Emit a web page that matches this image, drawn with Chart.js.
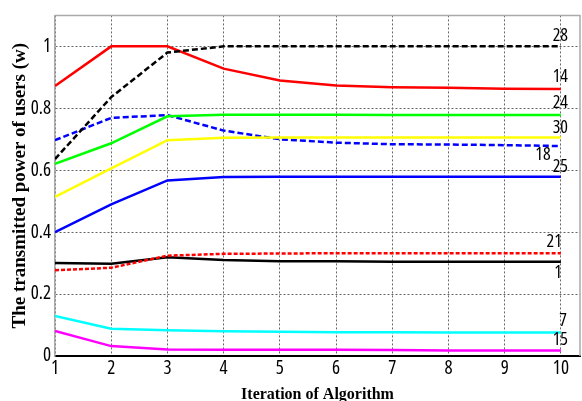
<!doctype html>
<html>
<head>
<meta charset="utf-8" />
<script src="https://cdn.jsdelivr.net/npm/chart.js@4/dist/chart.umd.min.js"></script>
<style>
  html, body { margin: 0; padding: 0; background: #fff; }
  #c { display: block; }
</style>
</head>
<body>
<canvas id="c" width="582" height="401"></canvas>
<script>
  // iterations on the x axis
  const iterations = [1, 2, 3, 4, 5, 6, 7, 8, 9, 10];
  const powerTicks = [0, 0.2, 0.4, 0.6, 0.8, 1];

  // transmitted power per user (w)
  const user1  = [0.300, 0.298, 0.319, 0.310, 0.306, 0.306, 0.304, 0.304, 0.304, 0.304];
  const user7  = [0.129, 0.088, 0.083, 0.080, 0.078, 0.077, 0.077, 0.076, 0.076, 0.076];
  const user14 = [0.872, 1.000, 1.000, 0.928, 0.890, 0.874, 0.868, 0.866, 0.863, 0.862];
  const user15 = [0.081, 0.032, 0.021, 0.020, 0.020, 0.020, 0.019, 0.018, 0.018, 0.018];
  const user18 = [0.697, 0.769, 0.778, 0.728, 0.700, 0.689, 0.684, 0.683, 0.681, 0.678];
  const user21 = [0.277, 0.285, 0.324, 0.330, 0.331, 0.332, 0.332, 0.332, 0.332, 0.332];
  const user24 = [0.621, 0.687, 0.774, 0.779, 0.779, 0.779, 0.778, 0.778, 0.778, 0.778];
  const user25 = [0.400, 0.490, 0.567, 0.578, 0.579, 0.579, 0.579, 0.579, 0.579, 0.579];
  const user28 = [0.636, 0.836, 0.980, 1.000, 1.000, 1.000, 1.000, 1.000, 1.000, 1.000];
  const user30 = [0.514, 0.606, 0.697, 0.705, 0.706, 0.706, 0.706, 0.706, 0.706, 0.706];

  // user number labels written next to the curves (data coordinates)
  const labelTexts = ["28", "14", "24", "30", "18", "25", "21", "1", "7", "15"];
  const labelIters = [9.99, 9.99, 9.99, 9.99, 9.68, 9.99, 9.88, 9.95, 10.04, 9.99];
  const labelPowers = [1.034, 0.901, 0.817, 0.738, 0.649, 0.612, 0.370, 0.270, 0.115, 0.051];

  const SERIF = "'Liberation Serif', 'Times New Roman', serif";

  // the original uses a narrow sans for numbers: take the narrowest one installed
  const narrow = (() => {
    const candidates = [
      { family: "'Liberation Sans Narrow'", weight: "normal" },
      { family: "'DejaVu Sans Condensed'", weight: "normal" },
      { family: "'Noto Sans'", weight: "condensed 400" },
      { family: "Roboto", weight: "condensed 400" },
      { family: "'Open Sans'", weight: "condensed 400" },
      { family: "'Liberation Sans'", weight: "normal" }
    ];
    const ctx = document.createElement("canvas").getContext("2d");
    let best = null, bestW = Infinity;
    candidates.forEach(c => {
      ctx.font = c.weight + " 40px " + c.family + ", monospace";
      const w = ctx.measureText("0.8 1234567890").width;
      if (w < bestW - 0.5) { bestW = w; best = c; }
    });
    const isNarrow = best.family !== "'Liberation Sans'";
    return { family: best.family + ", 'Liberation Sans', Arial, sans-serif", weight: best.weight, narrow: isNarrow };
  })();
  const tickSize = narrow.narrow ? 19 : 15;
  const labelSize = narrow.narrow ? 18 : 15;

  function series(values, color, dash) {
    return {
      data: iterations.map((x, i) => ({ x, y: values[i] })),
      borderColor: color,
      borderWidth: 2.5,
      borderDash: dash || [],
      pointRadius: 0,
      tension: 0,
      fill: false
    };
  }

  const frame = {
    id: "frame",
    afterDraw(chart) {
      const { ctx, chartArea: a } = chart;
      ctx.save();
      ctx.strokeStyle = "#aaa";
      ctx.lineWidth = 1.5;
      ctx.beginPath();
      ctx.moveTo(a.left, a.top);
      ctx.lineTo(a.right, a.top);
      ctx.lineTo(a.right, a.bottom);
      ctx.stroke();
      ctx.restore();
    }
  };

  const curveLabels = {
    id: "curveLabels",
    afterDatasetsDraw(chart) {
      const { ctx, scales } = chart;
      ctx.save();
      ctx.font = narrow.weight + " " + labelSize + "px " + narrow.family;
      ctx.fillStyle = "#000";
      ctx.textAlign = "center";
      ctx.textBaseline = "middle";
      labelTexts.forEach((t, i) => {
        ctx.fillText(t, scales.x.getPixelForValue(labelIters[i]), scales.y.getPixelForValue(labelPowers[i]));
      });
      ctx.restore();
    }
  };

  const tickFont = { family: narrow.family, weight: narrow.weight, size: tickSize };

  new Chart(document.getElementById("c"), {
    type: "line",
    data: {
      datasets: [
        series(user28, "#000000", [6, 3]),
        series(user30, "#ffff00"),
        series(user25, "#0000ff"),
        series(user24, "#00ff00"),
        series(user21, "#ff0000", [4, 2]),
        series(user18, "#0000ff", [6, 3]),
        series(user15, "#ff00ff"),
        series(user14, "#ff0000"),
        series(user7, "#00ffff"),
        series(user1, "#000000")
      ]
    },
    options: {
      responsive: false,
      animation: false,
      devicePixelRatio: 1,
      layout: { padding: { top: 12, right: 2, left: 0, bottom: 0 } },
      plugins: { legend: { display: false }, tooltip: { enabled: false } },
      scales: {
        x: {
          type: "linear",
          min: 1,
          max: 10.34,
          afterBuildTicks: s => { s.ticks = iterations.map(v => ({ value: v })); },
          afterFit: s => { s.height = 45; },
          ticks: { padding: 1, color: "#000", font: tickFont },
          grid: { color: "#666", lineWidth: 1, drawTicks: false },
          border: { color: "#000", width: 2, dash: [2, 2] },
          title: {
            display: true,
            text: "Iteration of Algorithm",
            color: "#000",
            font: { family: SERIF, size: 16, weight: "bold" },
            padding: { top: 0, bottom: -3 }
          }
        },
        y: {
          min: 0,
          max: 1.1,
          afterBuildTicks: s => { s.ticks = powerTicks.map(v => ({ value: v })); },
          afterFit: s => { s.width = 55; },
          ticks: {
            padding: 4,
            color: "#000",
            font: tickFont,
            callback: v => String(Math.round(v * 10) / 10)
          },
          grid: { color: "#666", lineWidth: 1, drawTicks: false },
          border: { color: "#aaa", width: 1.5, dash: [2, 2] },
          title: {
            display: true,
            text: "The transmitted power of users (w)",
            color: "#000",
            font: { family: SERIF, size: 19, weight: "bold" },
            padding: { top: 9, bottom: 0 }
          }
        }
      }
    },
    plugins: [frame, curveLabels]
  });
</script>
</body>
</html>
